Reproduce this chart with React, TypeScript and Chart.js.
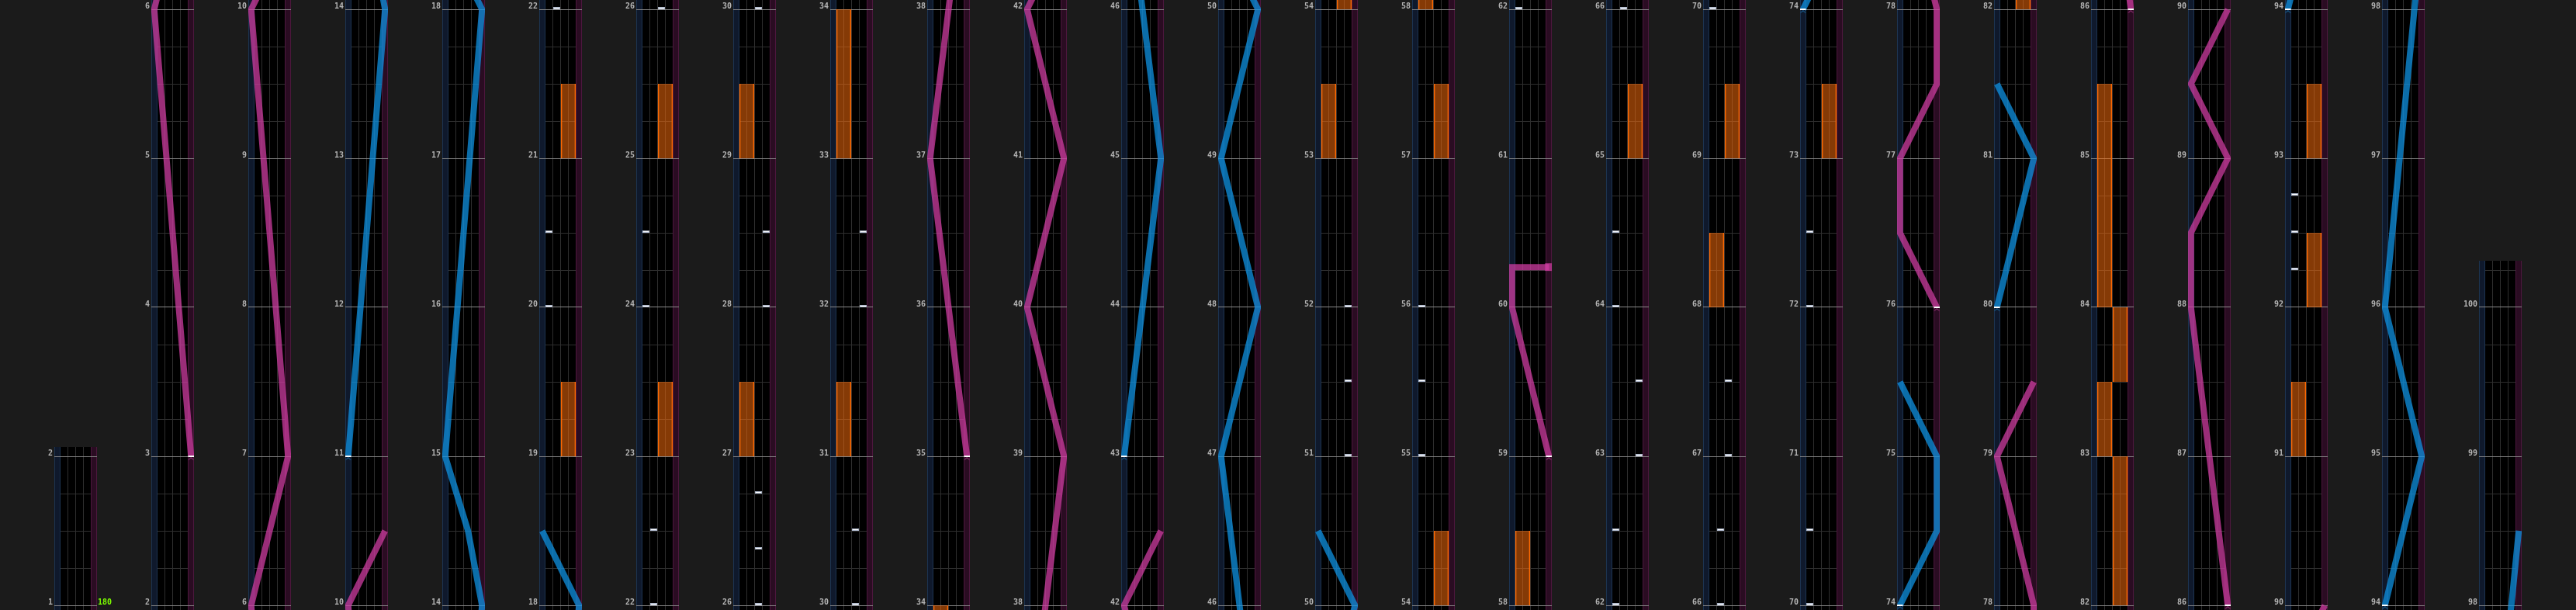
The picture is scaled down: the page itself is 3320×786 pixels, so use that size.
import React, { useEffect, useRef } from 'react';
import { Chart, registerables } from 'chart.js';

Chart.register(...registerables);

// ---------------- chart content ----------------
// measures are numbered as in the picture; lanes 1..4; laser position 0 = left edge, 1 = right edge
const startMeasure = 1;
const endMeasure = 100.25;
const measuresPerColumn = 4;

// [measure, bpm]
const bpmChanges: [number, number][] = [[1, 180]];

// BT notes (measure positions) per lane
const btLane1 = [20, 20.5, 24, 24.5, 55, 55.5, 56, 62, 62.5, 64, 64.5, 70, 70.5, 72, 72.5, 92.25, 92.5, 92.75];
const btLane2 = [22, 22.5, 66, 66.5];
const btLane3 = [26, 26.375, 26.75, 30, 30.5, 67, 67.5];
const btLane4 = [28, 28.5, 32, 32.5, 51, 51.5, 52, 63, 63.5];

// FX holds [start, end]
const fxLeftHolds: [number, number][] = [
  [27, 27.5], [29, 29.5], [31, 31.5], [33, 34], [53, 53.5], [58, 58.5],
  [68, 68.5], [83, 83.5], [84, 85.5], [91, 91.5],
];
const fxRightHolds: [number, number][] = [
  [19, 19.5], [21, 21.5], [23, 23.5], [25, 25.5], [54, 54.5], [57, 57.5],
  [65, 65.5], [69, 69.5], [73, 73.5], [82, 83], [83.5, 84], [92, 92.5], [93, 93.5],
];

// lasers: list of segments, each segment = [measure, position]
const volLeft: [number, number][][] = [
  [[11, 0], [14, 1], [14.5, 0.62], [15, 0], [18, 1], [18.5, 0]],
  [[43, 0], [45, 1], [47, 0], [48, 1], [49, 0], [50, 1], [50.5, 0]],
  [[74, 0], [74.5, 1], [75, 1], [75.5, 0]],
  [[80, 0], [81, 1], [81.5, 0]],
  [[94, 0], [95, 1], [96, 0], [98.5, 1]],
];
const volRight: [number, number][][] = [
  [[3, 1], [6, 0], [7, 1], [10, 0], [10.5, 1]],
  [[35, 1], [37, 0], [39, 1], [40, 0], [41, 1], [42, 0], [42.5, 1]],
  [[59, 1], [60, 0], [60.27, 0], [60.27, 1]],
  [[76, 1], [76.5, 0], [77, 0], [77.5, 1], [78, 1], [79, 0], [79.5, 1]],
  [[86, 1], [88, 0], [88.5, 0], [89, 1], [89.5, 0], [90, 1]],
];

// ---------------- layout & style ----------------
const VIEW_W = 3320;
const VIEW_H = 786;
const PX_PER_MEASURE = 192;
const PANEL_LEFT = 70;
const COLUMN_PITCH = 125;
const PANEL_W = 55;
const LABEL_W = 30;
const RIGHT_PAD = 30;
const TOP_MARGIN = 1 / 16;
const BOTTOM_MARGIN = 1 / 32;

const PAGE_BG = '#1b1b1b';
const MEASURE_LINE = '#8a8a8a';
const BEAT_LINE = '#2e2e2e';
const LANE_LINE = '#2e2e2e';
const BLUE_FILL = '#0f192c';
const BLUE_EDGE = '#1c3350';
const PINK_FILL = '#2a0c22';
const PINK_EDGE = '#4c173d';
const VOL_L_COLOR = 'rgba(15,145,225,0.75)';
const VOL_R_COLOR = 'rgba(205,60,160,0.75)';
const VOL_L_MARK = '#1a7fc0';
const VOL_R_MARK = '#c0409a';
const FX_FILL = 'rgba(255,112,12,0.52)';
const FX_EDGE = '#ff6a00';
const LABEL_COLOR = '#b4b4b4';
const BPM_COLOR = '#7cfc00';
const FONT_FAMILY = "'DejaVu Sans Mono', monospace";

// x scale: blue side lane [-0.75,0], BT lanes [0,4], pink side lane [4,4.75]
const X_MIN = -0.75;
const X_MAX = 4.75;
const laserX = (pos: number) => -0.375 + 4.75 * pos;

type Column = { from: number; to: number };

function buildColumns(): Column[] {
  const cols: Column[] = [{ from: startMeasure, to: startMeasure + 1 }];
  for (let s = startMeasure + 1; s < endMeasure; s += measuresPerColumn) {
    cols.push({ from: s, to: Math.min(s + measuresPerColumn, endMeasure) });
  }
  return cols;
}

const columnMin = (c: Column) => c.from - BOTTOM_MARGIN;
const columnMax = (c: Column) => c.to + TOP_MARGIN;
const columnHeight = (c: Column) => Math.round((columnMax(c) - columnMin(c)) * PX_PER_MEASURE);

function makeNoteImage(): HTMLCanvasElement {
  const c = document.createElement('canvas');
  c.width = 9;
  c.height = 6;
  const g = c.getContext('2d')!;
  g.fillStyle = '#aeb8cc';
  g.fillRect(0, 0, 9, 3);
  g.fillStyle = '#ffffff';
  g.fillRect(1, 1, 7, 1);
  return c;
}

// small "^" start marker drawn just below the start point
function makeChevron(color: string): HTMLCanvasElement {
  const c = document.createElement('canvas');
  c.width = 8;
  c.height = 12;
  const g = c.getContext('2d')!;
  g.strokeStyle = color;
  g.lineWidth = 1;
  g.beginPath();
  g.moveTo(1, 10.5);
  g.lineTo(4, 7.5);
  g.lineTo(7, 10.5);
  g.stroke();
  return c;
}

const lanePlugin = {
  id: 'laneBackground',
  beforeDraw(chart: any) {
    const { ctx, chartArea: a, scales } = chart;
    const x = scales.x;
    const y = scales.y;
    const h = a.bottom - a.top;
    ctx.save();
    ctx.fillStyle = '#000000';
    ctx.fillRect(a.left, a.top, a.right - a.left, h);
    const sides: [number, number, string, string][] = [
      [X_MIN, 0, BLUE_FILL, BLUE_EDGE],
      [4, X_MAX, PINK_FILL, PINK_EDGE],
    ];
    for (const [v0, v1, fill, edge] of sides) {
      const l = Math.floor(x.getPixelForValue(v0));
      const r = Math.ceil(x.getPixelForValue(v1));
      ctx.fillStyle = fill;
      ctx.fillRect(l, a.top, r - l, h);
      ctx.fillStyle = edge;
      ctx.fillRect(l, a.top, 1, h);
      ctx.fillRect(r - 1, a.top, 1, h);
    }
    const bl = Math.ceil(x.getPixelForValue(0));
    const br = Math.floor(x.getPixelForValue(4));
    ctx.fillStyle = BEAT_LINE;
    for (let q = Math.ceil(y.min * 4); q <= Math.floor(y.max * 4); q++) {
      if (q % 4 === 0) continue;
      const py = Math.round(y.getPixelForValue(q / 4));
      ctx.fillRect(bl, py, br - bl, 1);
    }
    ctx.restore();
  },
};

// measure numbers (y ticks) and bpm text
const textPlugin = {
  id: 'measureText',
  afterDraw(chart: any) {
    const { ctx, chartArea: a, scales } = chart;
    const y = scales.y;
    ctx.save();
    ctx.font = `bold 10px ${FONT_FAMILY}`;
    ctx.textBaseline = 'middle';
    ctx.fillStyle = LABEL_COLOR;
    ctx.textAlign = 'right';
    for (const t of y.ticks) {
      const label = t.label !== undefined && t.label !== '' ? String(t.label) : String(t.value);
      ctx.fillText(label, a.left - 2, y.getPixelForValue(t.value) - 4);
    }
    ctx.fillStyle = BPM_COLOR;
    ctx.textAlign = 'left';
    for (const [m, bpm] of bpmChanges) {
      if (m < y.min || m > y.max) continue;
      ctx.fillText(String(bpm), a.right + 1, y.getPixelForValue(m) - 4);
    }
    ctx.restore();
  },
};

function laserDataset(points: [number, number][], color: string) {
  const data = points.map(([m, p]) => ({ x: laserX(p), y: m }));
  const n = points.length;
  const slamEnd = n >= 2 && points[n - 1][0] === points[n - 2][0];
  return {
    type: 'scatter' as const,
    showLine: true,
    data,
    borderColor: color,
    borderWidth: 8,
    borderJoinStyle: 'miter' as const,
    borderCapStyle: 'butt' as const,
    tension: 0,
    pointRadius: (c: any) => (c.dataIndex === 0 ? 3.75 : slamEnd && c.dataIndex === n - 1 ? 7 : 0),
    pointStyle: (c: any) => (c.dataIndex === 0 ? 'line' : 'rect'),
    pointBorderColor: (c: any) => (c.dataIndex === 0 ? '#ffffff' : color),
    pointBackgroundColor: color,
    pointBorderWidth: (c: any) => (c.dataIndex === 0 ? 2 : 0),
  };
}

function startMarkDataset(segments: [number, number][][], img: HTMLCanvasElement) {
  return {
    type: 'scatter' as const,
    showLine: false,
    data: segments.map((seg) => ({ x: laserX(seg[0][1]), y: seg[0][0] })),
    pointStyle: img,
    pointRadius: 4,
    pointBorderWidth: 0,
  };
}

function buildConfig(col: Column, images: { note: HTMLCanvasElement; chevL: HTMLCanvasElement; chevR: HTMLCanvasElement }): any {
  const lanes = [btLane1, btLane2, btLane3, btLane4];
  const notes = lanes.flatMap((list, i) => list.map((m) => ({ x: i + 0.5, y: m })));
  const fx = [
    ...fxLeftHolds.map(([s, e]) => ({ x: 1, y: [s, e] })),
    ...fxRightHolds.map(([s, e]) => ({ x: 3, y: [s, e] })),
  ];
  const datasets: any[] = [
    startMarkDataset(volLeft, images.chevL),
    startMarkDataset(volRight, images.chevR),
    ...volLeft.map((seg) => laserDataset(seg, VOL_L_COLOR)),
    ...volRight.map((seg) => laserDataset(seg, VOL_R_COLOR)),
    {
      type: 'scatter',
      data: notes,
      showLine: false,
      pointStyle: images.note,
      pointRadius: 5,
      pointBorderWidth: 0,
    },
    {
      type: 'bar',
      data: fx,
      backgroundColor: FX_FILL,
      borderColor: FX_EDGE,
      borderWidth: { left: 1, right: 1, top: 0, bottom: 0 },
      borderSkipped: false,
      barThickness: 19,
      grouped: true,
    },
  ];
  return {
    type: 'scatter',
    data: { datasets },
    options: {
      animation: false,
      responsive: false,
      maintainAspectRatio: false,
      events: [],
      layout: { autoPadding: false, padding: { left: 0, right: RIGHT_PAD, top: 0, bottom: 0 } },
      plugins: { legend: { display: false }, tooltip: { enabled: false } },
      scales: {
        x: {
          type: 'linear',
          min: X_MIN,
          max: X_MAX,
          offset: false,
          ticks: { display: false, stepSize: 1, includeBounds: false },
          grid: {
            drawTicks: false,
            offset: false,
            lineWidth: 1,
            color: (c: any) => {
              const v = c.tick ? c.tick.value : NaN;
              return v === 1 || v === 2 || v === 3 ? LANE_LINE : 'rgba(0,0,0,0)';
            },
          },
          border: { display: false },
          afterFit: (s: any) => {
            s.height = 0;
          },
        },
        y: {
          type: 'linear',
          min: columnMin(col),
          max: columnMax(col),
          offset: false,
          afterBuildTicks: (s: any) => {
            s.ticks = s.ticks.filter((t: any) => Math.abs(t.value - Math.round(t.value)) < 1e-9);
          },
          ticks: {
            display: false,
            stepSize: 1,
            includeBounds: false,
            callback: (v: any) => String(Math.round(Number(v))),
          },
          grid: { drawTicks: false, color: MEASURE_LINE, lineWidth: 1 },
          border: { display: false },
          afterFit: (s: any) => {
            s.width = LABEL_W;
          },
        },
      },
    },
    plugins: [lanePlugin, textPlugin],
  };
}

export default function App() {
  const refs = useRef<(HTMLCanvasElement | null)[]>([]);
  const columns = buildColumns();

  useEffect(() => {
    const images = {
      note: makeNoteImage(),
      chevL: makeChevron(VOL_L_MARK),
      chevR: makeChevron(VOL_R_MARK),
    };
    const charts = columns.map((col, i) => {
      const canvas = refs.current[i];
      if (!canvas) return null;
      return new Chart(canvas, buildConfig(col, images));
    });
    return () => {
      charts.forEach((c) => c && c.destroy());
    };
  }, []);

  const canvasW = LABEL_W + PANEL_W + RIGHT_PAD;
  return (
    <div
      style={{
        position: 'absolute',
        left: 0,
        top: 0,
        width: VIEW_W,
        height: VIEW_H,
        background: PAGE_BG,
        overflow: 'hidden',
      }}
    >
      {columns.map((col, i) => {
        const h = columnHeight(col);
        return (
          <canvas
            key={i}
            ref={(el) => {
              refs.current[i] = el;
            }}
            width={canvasW}
            height={h}
            style={{
              position: 'absolute',
              left: PANEL_LEFT + i * COLUMN_PITCH - LABEL_W,
              top: VIEW_H - h,
              width: canvasW,
              height: h,
            }}
          />
        );
      })}
    </div>
  );
}
